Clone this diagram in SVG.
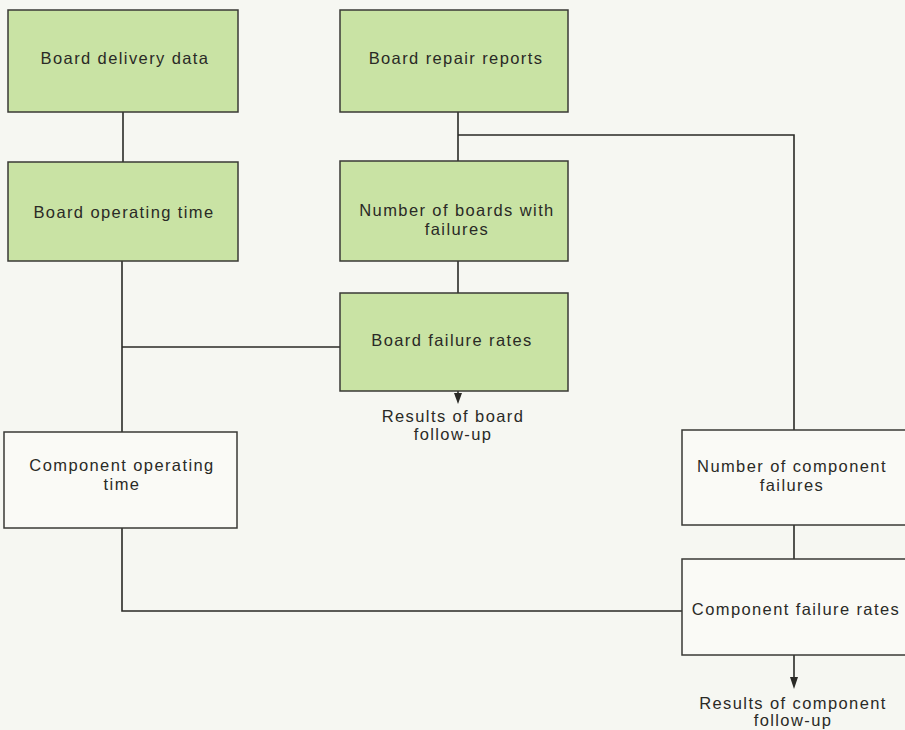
<svg xmlns="http://www.w3.org/2000/svg" width="905" height="730" viewBox="0 0 905 730">
<defs>
<style>
.g{fill:#c9e3a4;stroke:#3a3a36;stroke-width:1.5}
.w{fill:#fafaf6;stroke:#3a3a36;stroke-width:1.5}
.t{font-family:"Liberation Sans",Arial,sans-serif;font-size:16.5px;letter-spacing:1.4px;fill:#2a2a26;text-anchor:middle}
.c{fill:none;stroke:#2a2a26;stroke-width:1.6}
.a{fill:#2a2a26}
</style>
</defs>
<rect width="905" height="730" fill="#f6f7f2"/>
<g id="connectors">
<path class="c" d="M123,112 V162"/>
<path class="c" d="M458,112 V161"/>
<path class="c" d="M458,135 H794 V430"/>
<path class="c" d="M458,261 V293"/>
<path class="c" d="M122,261 V432"/>
<path class="c" d="M122,347 H340"/>
<path class="c" d="M458,391 V396"/>
<path class="a" d="M454,393 L462,393 L458,404 Z"/>
<path class="c" d="M122,528 V611 H682"/>
<path class="c" d="M794,525 V559"/>
<path class="c" d="M794,655 V680"/>
<path class="a" d="M790,677 L798,677 L794,689 Z"/>
</g>
<g id="board-delivery-data">
<rect class="g" x="8" y="10" width="230" height="102"/>
<text class="t" x="125" y="64">Board delivery data</text>
</g>
<g id="board-operating-time">
<rect class="g" x="8" y="162" width="230" height="99"/>
<text class="t" x="124" y="218">Board operating time</text>
</g>
<g id="board-repair-reports">
<rect class="g" x="340" y="10" width="228" height="102"/>
<text class="t" x="456" y="64">Board repair reports</text>
</g>
<g id="number-of-boards-with-failures">
<rect class="g" x="340" y="161" width="228" height="100"/>
<text class="t" x="457" y="216">Number of boards with</text>
<text class="t" x="457" y="235">failures</text>
</g>
<g id="board-failure-rates">
<rect class="g" x="340" y="293" width="228" height="98"/>
<text class="t" x="452" y="346">Board failure rates</text>
</g>
<g id="results-board">
<text class="t" x="453" y="422">Results of board</text>
<text class="t" x="453" y="440">follow-up</text>
</g>
<g id="component-operating-time">
<rect class="w" x="4" y="432" width="233" height="96"/>
<text class="t" x="122" y="471">Component operating</text>
<text class="t" x="122" y="490">time</text>
</g>
<g id="number-of-component-failures">
<rect class="w" x="682" y="430" width="230" height="95"/>
<text class="t" x="792" y="472">Number of component</text>
<text class="t" x="792" y="491">failures</text>
</g>
<g id="component-failure-rates">
<rect class="w" x="682" y="559" width="230" height="96"/>
<text class="t" x="796" y="615">Component failure rates</text>
</g>
<g id="results-component">
<text class="t" x="793" y="709">Results of component</text>
<text class="t" x="793" y="726">follow-up</text>
</g>
</svg>
